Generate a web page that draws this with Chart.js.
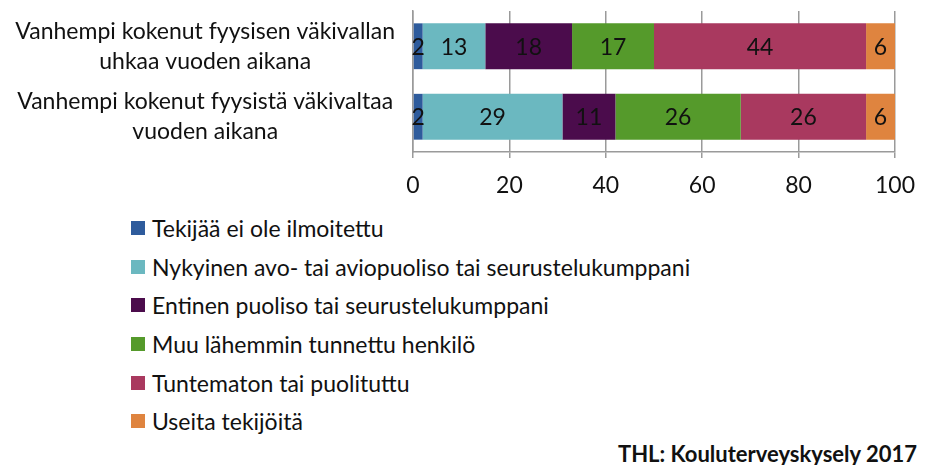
<!DOCTYPE html>
<html>
<head>
<meta charset="utf-8">
<script src="https://cdn.jsdelivr.net/npm/chart.js@4"></script>
<style>
  body { margin: 0; background: #fff; font-family: Lato, "Open Sans", sans-serif; }
  #wrap { position: relative; width: 929px; height: 465px; }
  #chartBox { position: absolute; left: 0; top: 0; width: 929px; height: 200px; }
  #legend { position: absolute; left: 131px; top: 209px; }
  .item { height: 38.6px; display: flex; align-items: center; font-size: 23px; color: #111; white-space: nowrap; }
  .sw { width: 14px; height: 14px; margin-right: 7px; }
  #source { position: absolute; right: 12px; top: 440px; font-size: 22px; font-weight: bold; color: #111; }
</style>
</head>
<body>
<div id="wrap">
  <div id="chartBox"><canvas id="chart"></canvas></div>
  <div id="legend"></div>
  <div id="source">THL: Kouluterveyskysely 2017</div>
</div>
<script>
const categories = [
  ['Vanhempi kokenut fyysisen väkivallan', 'uhkaa vuoden aikana'],
  ['Vanhempi kokenut fyysistä väkivaltaa', 'vuoden aikana']
];
const seriesNames = [
  'Tekijää ei ole ilmoitettu',
  'Nykyinen avo- tai aviopuoliso tai seurustelukumppani',
  'Entinen puoliso tai seurustelukumppani',
  'Muu lähemmin tunnettu henkilö',
  'Tuntematon tai puolituttu',
  'Useita tekijöitä'
];
const notStated = [2, 2];
const currentPartner = [13, 29];
const formerPartner = [18, 11];
const otherKnown = [17, 26];
const stranger = [44, 26];
const several = [6, 6];
const colors = ['#2E5B9C', '#6BB8C0', '#4B0C4C', '#559A2B', '#A9395F', '#DF843F'];

const seriesValues = [notStated, currentPartner, formerPartner, otherKnown, stranger, several];

// legend as a plain vertical list
const legendEl = document.getElementById('legend');
seriesNames.forEach((name, i) => {
    const row = document.createElement('div');
    row.className = 'item';
    row.innerHTML = '<span class="sw" style="background:' + colors[i] + '"></span>' + name;
    legendEl.appendChild(row);
});

// values written in the middle of each segment
const barLabels = {
    id: 'barLabels',
    afterDatasetsDraw(chart) {
        const ctx = chart.ctx;
        ctx.save();
        ctx.font = '23px Lato, "Open Sans", sans-serif';
        ctx.fillStyle = '#111';
        ctx.textAlign = 'center';
        ctx.textBaseline = 'middle';
        chart.data.datasets.forEach((ds, i) => {
            chart.getDatasetMeta(i).data.forEach((bar, j) => {
                const x = (bar.x + bar.base) / 2;
                ctx.fillText(ds.data[j], x, bar.y + 1);
            });
        });
        ctx.restore();
    }
};

new Chart(document.getElementById('chart').getContext('2d'), {
    type: 'bar',
    data: {
        labels: categories,
        datasets: seriesNames.map((name, i) => ({
            label: name,
            data: seriesValues[i],
            backgroundColor: colors[i],
            borderWidth: 0,
            categoryPercentage: 1,
            barPercentage: 0.65
        }))
    },
    options: {
        indexAxis: 'y',
        responsive: true,
        maintainAspectRatio: false,
        animation: false,
        layout: { padding: { top: 11, right: 34, bottom: 0, left: 0 } },
        plugins: {
            legend: { display: false },
            tooltip: { enabled: false }
        },
        scales: {
            x: {
                stacked: true,
                min: 0,
                max: 100,
                ticks: {
                    stepSize: 20,
                    color: '#111',
                    padding: 14,
                    font: { family: 'Lato, "Open Sans", sans-serif', size: 23 }
                },
                grid: { color: '#9a9a9a', lineWidth: 1.5, tickLength: 6 },
                border: { color: '#9a9a9a', width: 1.5 },
                afterFit: s => { s.height = 48; s.paddingLeft = 0; s.paddingRight = 0; }
            },
            y: {
                stacked: true,
                ticks: {
                    color: '#111',
                    autoSkip: false,
                    crossAlign: 'center',
                    padding: 10,
                    font: { family: 'Lato, "Open Sans", sans-serif', size: 23, lineHeight: 1.3 }
                },
                grid: { display: false },
                border: { color: '#9a9a9a', width: 1.5 },
                afterFit: s => { s.width = 413; s.paddingTop = 0; s.paddingBottom = 0; }
            }
        }
    },
    plugins: [barLabels]
});
</script>
</body>
</html>
